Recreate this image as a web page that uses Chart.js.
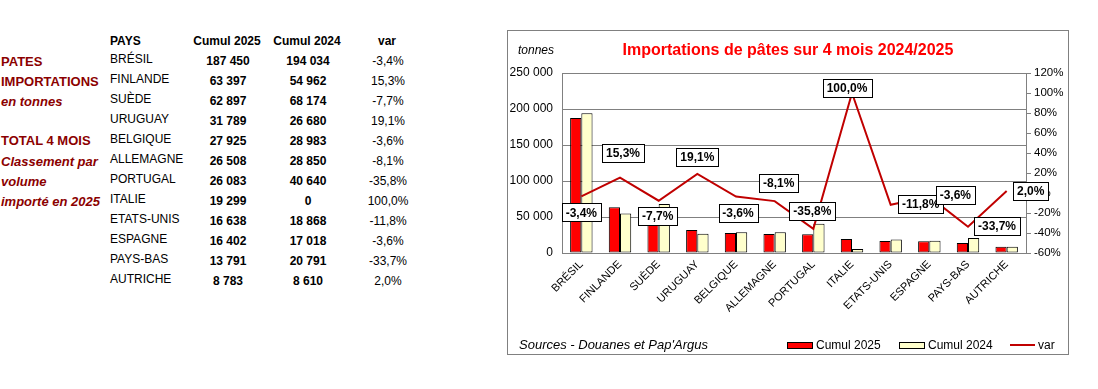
<!DOCTYPE html>
<html>
<head>
<meta charset="utf-8">
<script src="https://cdn.jsdelivr.net/npm/chart.js@4.4.1/dist/chart.umd.min.js"></script>
<style>
  body { margin: 0; background: #fff; font-family: "Liberation Sans", Arial, sans-serif; }
  #page { position: relative; width: 1098px; height: 389px; overflow: hidden; }
  .t { position: absolute; white-space: nowrap; line-height: 16px; height: 16px; font-size: 12px; color: #000; }
  .b { font-weight: bold; }
  .it { font-style: italic; }
  .c { transform: translateX(-50%); }
  .side { color: #8b0000; font-weight: bold; font-size: 13px; }
  #box { position: absolute; left: 507px; top: 30px; width: 562px; height: 325px; border: 1px solid #808080; box-sizing: border-box; }
  #box canvas { position: absolute; left: 0; top: 0; }
  .sw { position: absolute; height: 7px; border: 1px solid #000; box-sizing: border-box; }
</style>
</head>
<body>
<div id="page">
  <div id="table"></div>
  <div id="box">
    <canvas id="importChart" width="560" height="323"></canvas>
    <div class="t it" style="left:10px;top:11px;font-size:12px;">tonnes</div>
    <div class="t b c" style="left:280px;top:9px;font-size:16px;height:20px;line-height:20px;color:#ff0000;">Importations de pâtes sur 4 mois 2024/2025</div>
    <div class="t it" style="left:11px;top:306px;font-size:13px;">Sources - Douanes et Pap'Argus</div>
    <div class="sw" style="left:279px;top:311px;width:26px;background:#ff0000;"></div>
    <div class="t" style="left:308px;top:306px;">Cumul 2025</div>
    <div class="sw" style="left:391px;top:311px;width:26px;background:#ffffcc;"></div>
    <div class="t" style="left:420px;top:306px;">Cumul 2024</div>
    <div style="position:absolute;left:502px;top:313px;width:25px;height:2px;background:#c00000;"></div>
    <div class="t" style="left:530px;top:306px;">var</div>
  </div>
</div>
<script>
var pays = ['BRÉSIL', 'FINLANDE', 'SUÈDE', 'URUGUAY', 'BELGIQUE', 'ALLEMAGNE', 'PORTUGAL', 'ITALIE', 'ETATS-UNIS', 'ESPAGNE', 'PAYS-BAS', 'AUTRICHE'];
var cumul2025 = [187450, 63397, 62897, 31789, 27925, 26508, 26083, 19299, 16638, 16402, 13791, 8783];
var cumul2024 = [194034, 54962, 68174, 26680, 28983, 28850, 40640, 0, 18868, 17018, 20791, 8610];
var variation = [-3.4, 15.3, -7.7, 19.1, -3.6, -8.1, -35.8, 100.0, -11.8, -3.6, -33.7, 2.0];
var tonnesTicks = [0, 50000, 100000, 150000, 200000, 250000];
var pctTicks = [-60, -40, -20, 0, 20, 40, 60, 80, 100, 120];
var sideLines = ['PATES', 'IMPORTATIONS', 'en tonnes', '', 'TOTAL 4 MOIS', 'Classement par', 'volume', 'importé en 2025'];

var FONT = '"Liberation Sans", Arial, sans-serif';

function fmtNum(n) { return String(n).replace(/\B(?=(\d{3})+(?!\d))/g, ' '); }
function fmtPct(v) { return v.toFixed(1).replace('.', ',') + '%'; }

/* left-hand table */
(function() {
  var html = '';
  function cell(txt, x, yc, cls) {
    html += '<div class="t ' + cls + '" style="left:' + x + 'px;top:' + (yc - 8) + 'px;">' + txt + '</div>';
  }
  var sideY = [61.7, 81.7, 101.7, 0, 141, 161.7, 181.7, 201.7];
  sideLines.forEach(function(s, i) {
    if (!s) return;
    cell(s, 1, sideY[i], 'side' + (i === 2 || i > 4 ? ' it' : ''));
  });
  cell('PAYS', 110, 40.5, 'b');
  cell('Cumul 2025', 227, 40.5, 'b c');
  cell('Cumul 2024', 307, 40.5, 'b c');
  cell('var', 387, 40.5, 'b c');
  pays.forEach(function(p, i) {
    cell(p, 110, 58.5 + 20 * i, '');
    cell(fmtNum(cumul2025[i]), 228, 60.5 + 20 * i, 'b c');
    cell(fmtNum(cumul2024[i]), 308, 60.5 + 20 * i, 'b c');
    cell(fmtPct(variation[i]), 388, 60.5 + 20 * i, 'c');
  });
  document.getElementById('table').innerHTML = html;
})();

/* Plugin: boxed value labels on the var line */
var varLabelsPlugin = {
  id: 'varLabels',
  afterDatasetsDraw: function(chart, args, opts) {
    var meta = chart.getDatasetMeta(2);
    var c = chart.ctx;
    c.save();
    c.font = 'bold 12px ' + FONT;
    c.textAlign = 'center';
    c.textBaseline = 'middle';
    meta.data.forEach(function(pt, i) {
      var txt = fmtPct(variation[i]);
      var off = opts.offsets[i];
      var x = pt.x + off[0], y = pt.y + off[1];
      var w = Math.round(c.measureText(txt).width) + 8, h = 18;
      var bx = Math.round(x - w / 2) + 0.5, by = Math.round(y - h / 2) + 0.5;
      c.fillStyle = '#fff';
      c.fillRect(bx, by, w, h);
      c.strokeStyle = '#000';
      c.lineWidth = 1;
      c.strokeRect(bx, by, w, h);
      c.fillStyle = '#000';
      c.fillText(txt, x, y + 1);
    });
    c.restore();
  }
};

var ctx = document.getElementById('importChart');
new Chart(ctx, {
  type: 'bar',
  data: {
    labels: pays,
    datasets: [
      { label: 'Cumul 2025', data: cumul2025, backgroundColor: '#ff0000', borderColor: '#000', borderWidth: 1, borderSkipped: false, yAxisID: 'y', order: 1 },
      { label: 'Cumul 2024', data: cumul2024, backgroundColor: '#ffffcc', borderColor: '#000', borderWidth: 1, borderSkipped: false, minBarLength: 4, yAxisID: 'y', order: 1 },
      { type: 'line', label: 'var', data: variation, borderColor: '#c00000', borderWidth: 2, pointRadius: 0, tension: 0, fill: false, yAxisID: 'y1', order: 0 }
    ]
  },
  options: {
    responsive: false,
    animation: false,
    events: [],
    categoryPercentage: 0.58,
    barPercentage: 1.0,
    layout: { padding: { top: 42, left: 0, right: 0, bottom: 0 } },
    plugins: {
      legend: { display: false },
      title: { display: false },
      tooltip: { enabled: false },
      varLabels: {
        offsets: [[0, 16], [3, -25], [-1, 15], [0, -17], [2, 16], [4, -18], [-1, -18], [-5, -5], [30, -1], [26, -2], [29, -1], [24, 0]]
      }
    },
    scales: {
      x: {
        grid: { display: false, drawTicks: false },
        border: { display: true, color: '#808080', width: 1 },
        ticks: { color: '#000', font: { size: 11, family: FONT }, minRotation: 45, maxRotation: 45, autoSkip: false, padding: 5 },
        afterFit: function(axis) { axis.height = 101; }
      },
      y: {
        position: 'left',
        min: tonnesTicks[0],
        max: tonnesTicks[tonnesTicks.length - 1],
        grid: { color: '#808080', lineWidth: 1, drawTicks: false },
        border: { display: true, color: '#808080', width: 1 },
        ticks: { stepSize: tonnesTicks[1] - tonnesTicks[0], color: '#000', font: { size: 12, family: FONT }, padding: 9, callback: function(v) { return fmtNum(v); } },
        afterFit: function(axis) { axis.width = 54; }
      },
      y1: {
        position: 'right',
        min: pctTicks[0],
        max: pctTicks[pctTicks.length - 1],
        grid: { drawOnChartArea: false, color: '#808080', tickLength: 5 },
        border: { display: true, color: '#808080', width: 1 },
        ticks: { stepSize: pctTicks[1] - pctTicks[0], color: '#000', font: { size: 11.5, family: FONT }, padding: 3, callback: function(v) { return v + '%'; } },
        afterFit: function(axis) { axis.width = 42; }
      }
    }
  },
  plugins: [varLabelsPlugin]
});
</script>
</body>
</html>
